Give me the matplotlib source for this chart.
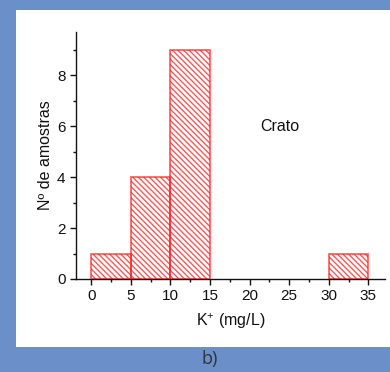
import matplotlib

matplotlib.use("Agg")
import matplotlib.pyplot as plt
from matplotlib.patches import Rectangle
from matplotlib.ticker import MultipleLocator

plt.rcParams["font.family"] = ["Liberation Sans", "DejaVu Sans"]
plt.rcParams["mathtext.default"] = "regular"
plt.rcParams["hatch.linewidth"] = 1.0

# histogram bins (mg/L) and counts
bin_left = [0, 5, 10, 30]
bin_width = [5, 5, 5, 5]
counts = [1, 4, 9, 1]
x_ticks = [0, 5, 10, 15, 20, 25, 30, 35]
y_ticks = [0, 2, 4, 6, 8]

BLUE = "#6a8fc9"
RED = "#ff2020"
INK = "#111111"

fig = plt.figure(figsize=(3.9, 3.72), dpi=100, facecolor=BLUE)
# white panel behind the chart
fig.patches.append(Rectangle((16 / 390, 1 - 347 / 372), 1 - 16 / 390, 337 / 372,
                             transform=fig.transFigure, facecolor="white",
                             edgecolor="none", zorder=-5))

ax = fig.add_axes([76 / 390, 1 - 279 / 372, 309 / 390, 247 / 372])
ax.set_facecolor("none")
ax.bar(bin_left, counts, width=bin_width, align="edge", facecolor="none",
       edgecolor=RED, hatch="\\" * 6, linewidth=1.2, alpha=0.75)

ax.set_xlim(-1.93, 37.1)
ax.set_ylim(0, 9.7)
ax.set_xticks(x_ticks)
ax.set_yticks(y_ticks)
ax.xaxis.set_minor_locator(MultipleLocator(2.5))
ax.yaxis.set_minor_locator(MultipleLocator(1))
ax.tick_params(which="major", direction="out", length=4, width=1, labelsize=11, colors=INK)
ax.tick_params(which="minor", direction="out", length=2, width=1, colors=INK)
for side in ("top", "right"):
    ax.spines[side].set_visible(False)
for side in ("left", "bottom"):
    ax.spines[side].set_color(INK)
    ax.spines[side].set_linewidth(1.0)

ax.set_xlabel("K$^{+}$ (mg/L)", fontsize=11.5, color=INK, labelpad=6)
ax.set_ylabel("Nº de amostras", fontsize=11.5, color=INK, labelpad=3)
ax.text(21.3, 6.0, "Crato", fontsize=11.5, color=INK, va="center", ha="left")

fig.text(0.538, 1 - 359 / 372, "b)", fontsize=13, color="#333333",
         ha="center", va="center", family=["Open Sans", "DejaVu Sans"])

fig.savefig("out.png", dpi=100, facecolor=BLUE)
plt.close(fig)
